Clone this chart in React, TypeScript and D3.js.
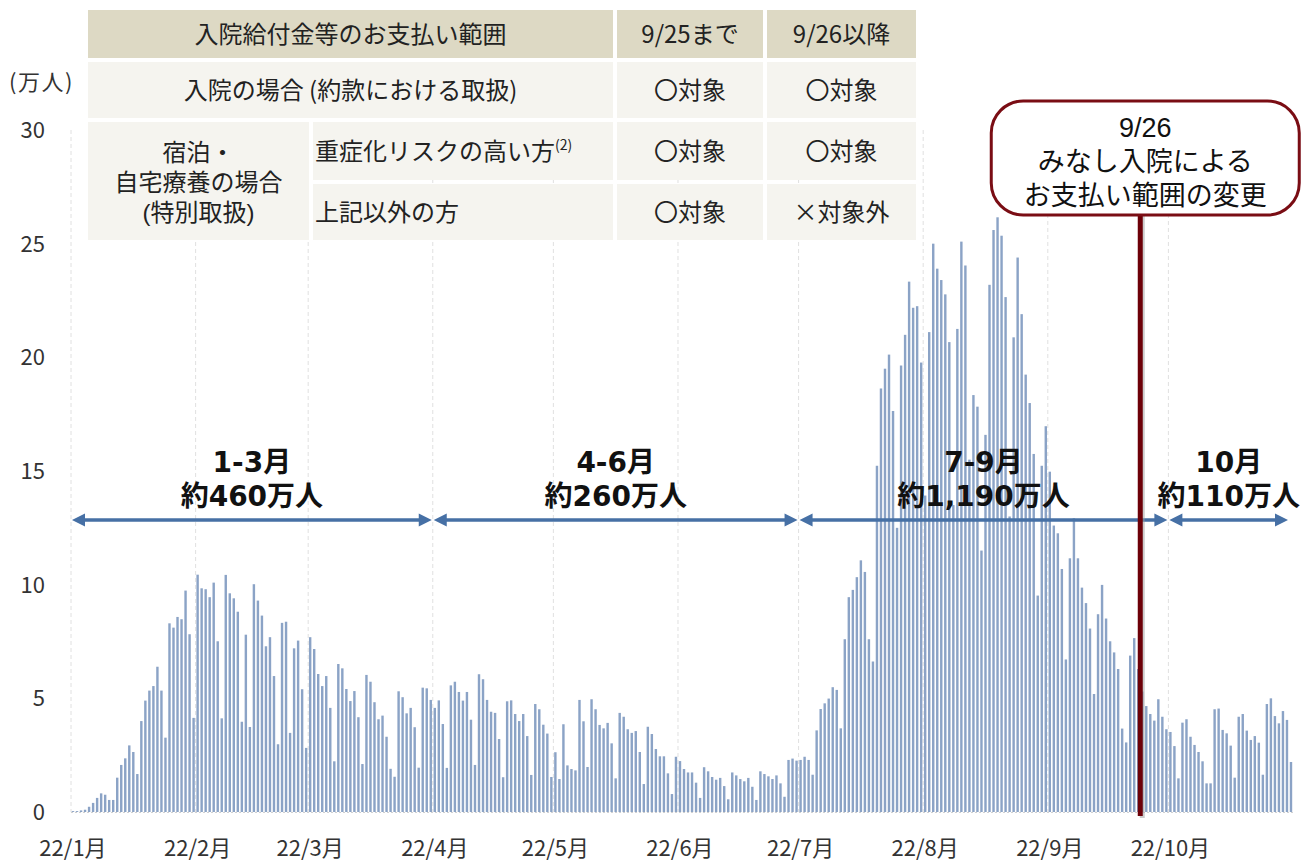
import { useEffect, useRef } from "react";
import * as d3 from "d3";

const WIDTH = 1302;
const HEIGHT = 863;

// daily values (万人), Jan 1 .. Oct 31 2022
const jan = [0.04, 0.04, 0.07, 0.1, 0.23, 0.4, 0.62, 0.82, 0.76, 0.53, 0.53, 1.51, 2.07, 2.36, 2.93, 2.64, 1.67, 4.0, 4.9, 5.34, 5.54, 6.39, 5.34, 3.27, 8.3, 8.11, 8.58, 8.48, 9.74, 7.82, 4.14];
const feb = [10.44, 9.84, 9.8, 9.45, 10.09, 7.51, 4.12, 10.43, 9.62, 9.4, 8.81, 3.97, 7.8, 3.74, 10.02, 9.3, 8.64, 7.29, 7.69, 5.98, 2.98, 8.32, 8.37, 3.48, 7.2, 7.54, 5.4, 2.82];
const mar = [7.69, 7.17, 6.07, 5.54, 5.98, 4.58, 2.23, 6.51, 6.32, 5.41, 4.88, 5.32, 4.17, 2.11, 6.03, 5.73, 4.83, 4.08, 4.24, 3.31, 1.9, 1.55, 5.31, 5.05, 4.34, 4.58, 3.73, 1.95, 5.47, 5.44, 4.93];
const apr = [4.58, 4.91, 3.87, 1.94, 5.57, 5.73, 5.28, 4.9, 5.28, 4.06, 2.07, 6.06, 5.84, 4.93, 4.41, 4.36, 3.21, 1.53, 4.87, 4.91, 4.31, 4.0, 4.31, 3.34, 1.63, 4.75, 4.52, 3.84, 3.45, 1.54];
const may = [2.63, 1.45, 3.86, 2.05, 1.89, 1.83, 4.93, 3.99, 1.98, 4.96, 4.52, 3.83, 3.68, 3.92, 3.02, 1.48, 4.36, 4.19, 3.64, 3.48, 3.56, 2.64, 1.23, 3.75, 3.43, 2.77, 2.45, 2.45, 1.7, 0.79, 2.43];
const jun = [2.24, 1.89, 1.74, 1.74, 1.29, 0.62, 1.97, 1.79, 1.54, 1.42, 1.5, 1.14, 0.56, 1.74, 1.61, 1.45, 1.35, 1.5, 1.11, 0.53, 1.79, 1.67, 1.57, 1.45, 1.61, 1.26, 0.67, 2.29, 2.35, 2.26];
const jul = [2.29, 2.43, 2.29, 1.64, 3.59, 4.53, 4.78, 4.99, 5.49, 5.37, 3.68, 7.6, 9.45, 9.77, 10.33, 11.07, 10.56, 7.6, 6.62, 15.23, 18.63, 19.5, 20.12, 17.64, 12.5, 19.64, 20.99, 23.33, 22.18, 22.25, 19.77];
const aug = [13.92, 21.11, 25.0, 23.9, 23.4, 22.77, 20.67, 13.5, 21.25, 25.09, 24.04, 15.5, 18.34, 17.83, 11.5, 16.59, 23.19, 25.6, 26.16, 25.35, 22.65, 13.0, 20.88, 24.39, 21.9, 19.24, 17.99, 15.75, 9.52, 15.23, 16.97];
const sep = [14.97, 12.6, 12.26, 10.69, 6.71, 11.16, 12.92, 11.16, 9.87, 9.19, 8.07, 5.19, 8.7, 9.99, 8.51, 7.51, 7.02, 6.29, 3.67, 3.06, 6.88, 7.65, 6.29, 5.3, 4.66, 4.31, 4.02, 4.96, 4.19, 3.64];
const oct = [3.52, 2.9, 1.48, 3.93, 4.08, 3.31, 2.95, 2.64, 2.23, 1.26, 1.26, 4.52, 4.55, 3.61, 3.46, 2.92, 1.51, 4.19, 4.31, 3.58, 3.17, 3.34, 3.05, 1.64, 4.75, 5.0, 4.22, 3.9, 4.44, 4.05, 2.2];

const months = [jan, feb, mar, apr, may, jun, jul, aug, sep, oct];
const monthLabels = ["22/1月", "22/2月", "22/3月", "22/4月", "22/5月", "22/6月", "22/7月", "22/8月", "22/9月", "22/10月"];
const yTicks = [0, 5, 10, 15, 20, 25, 30];

const periods = [
  { top: "1-3月", bottom: "約460万人", start: new Date(2022, 0, 1), end: new Date(2022, 3, 1) },
  { top: "4-6月", bottom: "約260万人", start: new Date(2022, 3, 1), end: new Date(2022, 6, 1) },
  { top: "7-9月", bottom: "約1,190万人", start: new Date(2022, 6, 1), end: new Date(2022, 9, 1) },
  { top: "10月", bottom: "約110万人", start: new Date(2022, 9, 1), end: new Date(2022, 9, 31) },
];

const changeDate = new Date(2022, 8, 24);
const calloutLines = ["9/26", "みなし入院による", "お支払い範囲の変更"];

const tableHeader = ["入院給付金等のお支払い範囲", "9/25まで", "9/26以降"];
const tableHospital = ["入院の場合 (約款における取扱)", "〇対象", "〇対象"];
const tableHomeLabel = ["宿泊・", "自宅療養の場合", "(特別取扱)"];
const tableHomeRows = [
  ["重症化リスクの高い方", "〇対象", "〇対象"],
  ["上記以外の方", "〇対象", "×対象外"],
];

const FONT = "'Noto Sans CJK JP', 'Noto Sans', sans-serif";
// tighter line box for the stacked multi-line labels
const STACK_FONT = "'Liberation Sans', 'Noto Sans CJK JP', sans-serif";
const BOLD_FONT = "'DejaVu Sans', 'Noto Sans CJK JP', sans-serif";

export default function App() {
  const svgRef = useRef<SVGSVGElement>(null);

  useEffect(() => {
    if (!svgRef.current) return;
    const svg = d3.select(svgRef.current);
    svg.selectAll("*").remove();

    const data = months.flatMap((vals, m) =>
      vals.map((v, i) => ({ date: new Date(2022, m, i + 1), value: v }))
    );

    const x = d3
      .scaleTime()
      .domain([new Date(2022, 0, 1), new Date(2022, 10, 1)])
      .range([71, 1293]);
    const y = d3.scaleLinear().domain([0, 30]).range([812, 130]);
    const dayW = x(new Date(2022, 0, 2)) - x(new Date(2022, 0, 1));

    svg.append("rect").attr("width", WIDTH).attr("height", HEIGHT).attr("fill", "#fff");

    // month gridlines
    const monthStarts = d3.range(10).map((m) => new Date(2022, m, 1));
    svg
      .append("g")
      .selectAll("line")
      .data(monthStarts)
      .enter()
      .append("line")
      .attr("x1", (d) => x(d))
      .attr("x2", (d) => x(d))
      .attr("y1", y(30))
      .attr("y2", y(0))
      .attr("stroke", "#e0e0e0")
      .attr("stroke-width", 1)
      .attr("stroke-dasharray", "4,3");

    // baseline
    svg
      .append("line")
      .attr("x1", x(new Date(2022, 0, 1)))
      .attr("x2", x(new Date(2022, 10, 1)))
      .attr("y1", y(0) + 0.5)
      .attr("y2", y(0) + 0.5)
      .attr("stroke", "#d0d0d0")
      .attr("stroke-dasharray", "2,2");

    // bars
    svg
      .append("g")
      .selectAll("rect")
      .data(data)
      .enter()
      .append("rect")
      .attr("x", (d) => x(d.date) + 0.8)
      .attr("width", dayW * 0.6)
      .attr("y", (d) => y(d.value))
      .attr("height", (d) => y(0) - y(d.value))
      .attr("fill", "#8ba3c6");

    // y ticks
    svg
      .append("g")
      .selectAll("text")
      .data(yTicks)
      .enter()
      .append("text")
      .attr("x", 45)
      .attr("y", (d) => y(d))
      .attr("dy", "0.36em")
      .attr("text-anchor", "end")
      .attr("font-family", FONT)
      .attr("font-size", 22)
      .attr("fill", "#333")
      .text((d) => d);

    svg
      .append("text")
      .attr("x", 9)
      .attr("y", 90)
      .attr("font-family", FONT)
      .attr("font-size", 22)
      .attr("letter-spacing", 1.5)
      .attr("fill", "#333")
      .text("(万人)");

    // x labels
    svg
      .append("g")
      .selectAll("text")
      .data(monthStarts)
      .enter()
      .append("text")
      .attr("x", (d) => x(d) + 2)
      .attr("y", 856)
      .attr("text-anchor", "middle")
      .attr("font-family", FONT)
      .attr("font-size", 22)
      .attr("fill", "#333")
      .text((_, i) => monthLabels[i]);

    // period arrows and labels
    const arrowY = y(12.85);
    const arrowColor = "#4670a5";
    const pg = svg.append("g");
    periods.forEach((p) => {
      const x1 = x(p.start) + 1;
      const x2 = x(p.end) - 1;
      const head = 13;
      pg.append("line")
        .attr("x1", x1 + head - 2)
        .attr("x2", x2 - head + 2)
        .attr("y1", arrowY)
        .attr("y2", arrowY)
        .attr("stroke", arrowColor)
        .attr("stroke-width", 3.5);
      pg.append("path")
        .attr("d", `M${x1},${arrowY} L${x1 + head},${arrowY - 6.5} L${x1 + head},${arrowY + 6.5} Z`)
        .attr("fill", arrowColor);
      pg.append("path")
        .attr("d", `M${x2},${arrowY} L${x2 - head},${arrowY - 6.5} L${x2 - head},${arrowY + 6.5} Z`)
        .attr("fill", arrowColor);
      const cx = (x1 + x2) / 2;
      pg.append("text")
        .attr("x", cx)
        .attr("y", arrowY - 48)
        .attr("text-anchor", "middle")
        .attr("font-family", BOLD_FONT)
        .attr("font-weight", "bold")
        .attr("font-size", 28)
        .attr("fill", "#111")
        .text(p.top);
      pg.append("text")
        .attr("x", cx)
        .attr("y", arrowY - 14)
        .attr("text-anchor", "middle")
        .attr("font-family", BOLD_FONT)
        .attr("font-weight", "bold")
        .attr("font-size", 28)
        .attr("fill", "#111")
        .text(p.bottom);
    });

    // change line + callout
    const lx = x(changeDate);
    svg
      .append("line")
      .attr("x1", lx + 2)
      .attr("x2", lx + 2)
      .attr("y1", 215)
      .attr("y2", 818)
      .attr("stroke", "#9a9a9a")
      .attr("stroke-opacity", 0.5)
      .attr("stroke-width", 5);
    svg
      .append("line")
      .attr("x1", lx)
      .attr("x2", lx)
      .attr("y1", 214)
      .attr("y2", 816)
      .attr("stroke", "#6d0008")
      .attr("stroke-width", 5);

    svg
      .append("rect")
      .attr("x", lx - 149)
      .attr("y", 101)
      .attr("width", 308)
      .attr("height", 114)
      .attr("rx", 32)
      .attr("fill", "#fff")
      .attr("stroke", "#7a0d14")
      .attr("stroke-width", 3);
    const ct = svg
      .append("text")
      .attr("text-anchor", "middle")
      .attr("font-family", STACK_FONT)
      .attr("font-size", 27)
      .attr("fill", "#111");
    calloutLines.forEach((t, i) => {
      ct.append("tspan")
        .attr("x", lx + 5)
        .attr("y", 137 + i * 34)
        .text(t);
    });

    // table
    const tg = svg.append("g").attr("font-family", FONT).attr("font-size", 24).attr("fill", "#222");
    const headFill = "#ddd9c4";
    const bodyFill = "#f5f4ef";
    const colX = [88, 617, 767, 916];
    const subX = 313;
    const rowY = [10, 62, 122, 184, 240];
    const gap = 4;

    const cell = (x0: number, y0: number, x1: number, y1: number, fill: string) =>
      tg.append("rect").attr("x", x0).attr("y", y0).attr("width", x1 - x0).attr("height", y1 - y0).attr("fill", fill);
    const label = (tx: number, ty: number, t: string, anchor = "middle") =>
      tg.append("text").attr("x", tx).attr("y", ty).attr("dy", "0.36em").attr("text-anchor", anchor).text(t);

    // header row
    cell(colX[0], rowY[0], colX[1] - gap, rowY[1] - gap, headFill);
    cell(colX[1], rowY[0], colX[2] - gap, rowY[1] - gap, headFill);
    cell(colX[2], rowY[0], colX[3], rowY[1] - gap, headFill);
    label((colX[0] + colX[1] - gap) / 2, (rowY[0] + rowY[1] - gap) / 2, tableHeader[0]);
    label((colX[1] + colX[2] - gap) / 2, (rowY[0] + rowY[1] - gap) / 2, tableHeader[1]);
    label((colX[2] + colX[3]) / 2, (rowY[0] + rowY[1] - gap) / 2, tableHeader[2]);

    // hospital row
    cell(colX[0], rowY[1], colX[1] - gap, rowY[2] - gap, bodyFill);
    cell(colX[1], rowY[1], colX[2] - gap, rowY[2] - gap, bodyFill);
    cell(colX[2], rowY[1], colX[3], rowY[2] - gap, bodyFill);
    label((colX[0] + colX[1] - gap) / 2, (rowY[1] + rowY[2] - gap) / 2, tableHospital[0]);
    label((colX[1] + colX[2] - gap) / 2, (rowY[1] + rowY[2] - gap) / 2, tableHospital[1]);
    label((colX[2] + colX[3]) / 2, (rowY[1] + rowY[2] - gap) / 2, tableHospital[2]);

    // home care block (one text, three lines)
    cell(colX[0], rowY[2], subX - gap, rowY[4], bodyFill);
    const ht = tg.append("text").attr("text-anchor", "middle").attr("font-family", STACK_FONT);
    tableHomeLabel.forEach((t, i) => {
      ht.append("tspan")
        .attr("x", (colX[0] + subX - gap) / 2)
        .attr("y", rowY[2] + 39 + i * 30)
        .text(t);
    });
    tableHomeRows.forEach((r, i) => {
      const y0 = rowY[2 + i];
      const y1 = i === 0 ? rowY[3] - gap : rowY[4];
      cell(subX, y0, colX[1] - gap, y1, bodyFill);
      cell(colX[1], y0, colX[2] - gap, y1, bodyFill);
      cell(colX[2], y0, colX[3], y1, bodyFill);
      const cy = (y0 + y1) / 2;
      const t = label(subX + 2, cy, r[0], "start");
      if (i === 0) {
        t.append("tspan").attr("font-size", 14).attr("dy", "-0.7em").text("(2)");
      }
      label((colX[1] + colX[2] - gap) / 2, cy, r[1]);
      label((colX[2] + colX[3]) / 2, cy, r[2]);
    });
  }, []);

  return (
    <svg
      ref={svgRef}
      width={WIDTH}
      height={HEIGHT}
      style={{ position: "absolute", left: 0, top: 0, display: "block" }}
    />
  );
}
